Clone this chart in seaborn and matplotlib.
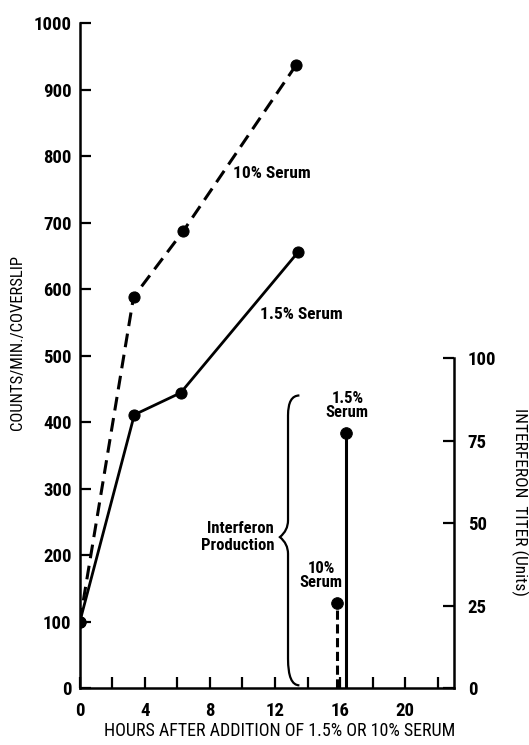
"""
Thymidine uptake and interferon titer after serum addition
"""

import numpy as np
import matplotlib
matplotlib.use('Agg')
import matplotlib.pyplot as plt
from matplotlib.path import Path
from matplotlib.patches import PathPatch
import seaborn as sns

# counts/min/coverslip over time
hours_10 = [0, 3.3, 6.35, 13.3]
counts_10 = [100, 588, 687, 937]
hours_15 = [0, 3.35, 6.2, 13.4]
counts_15 = [100, 411, 444, 655]

# interferon titer (right axis)
ifn_labels = ['10%\nSerum', '1.5%\nSerum']
ifn_hours = [15.8, 16.35]
ifn_titer = [25.7, 77.2]

x_ticks = [0, 4, 8, 12, 16, 20]
x_minor = [2, 6, 10, 14, 18, 22]
y_ticks = [0, 100, 200, 300, 400, 500, 600, 700, 800, 900, 1000]
y2_ticks = [0, 25, 50, 75, 100]

sns.set_style('ticks')
plt.rcParams['font.family'] = ['DejaVu Sans Condensed', 'Liberation Sans Narrow',
                               'Roboto Condensed', 'Roboto', 'DejaVu Sans']
plt.rcParams['font.stretch'] = 'condensed'
plt.rcParams['font.weight'] = 'bold'
plt.rcParams['text.color'] = 'black'
plt.rcParams['axes.labelcolor'] = 'black'
plt.rcParams['xtick.color'] = 'black'
plt.rcParams['ytick.color'] = 'black'

fig = plt.figure(figsize=(5.29, 7.45), dpi=100)
ax = fig.add_axes([0.151, 0.0765, 0.707, 0.8925])

# DNA synthesis curves
sns.lineplot(x=hours_10, y=counts_10, ax=ax, color='black', lw=2.2,
             linestyle=(0, (4.5, 2.5)), marker='o', markersize=8,
             markeredgecolor='black', sort=False, estimator=None)
sns.lineplot(x=hours_15, y=counts_15, ax=ax, color='black', lw=2.0,
             marker='o', markersize=8, markeredgecolor='black',
             sort=False, estimator=None)

ax.set_xlim(0, 23)
ax.set_ylim(0, 1000)
ax.set_xticks(x_ticks)
ax.set_xticks(x_minor, minor=True)
ax.set_yticks(y_ticks)
ax.tick_params(axis='both', which='both', direction='in', length=8,
               width=1.6, color='black', labelsize=13.5, pad=6)
ax.tick_params(axis='x', pad=10)
for s in ['left', 'bottom']:
    ax.spines[s].set_linewidth(1.8)
    ax.spines[s].set_color('black')
ax.spines['top'].set_visible(False)
ax.spines['right'].set_visible(False)

ax.set_xlabel('HOURS AFTER ADDITION OF 1.5% OR 10% SERUM', fontsize=13,
              va='center')
ax.xaxis.set_label_coords(0.535, -0.0647)
ax.set_ylabel('COUNTS/MIN./COVERSLIP', fontsize=12, va='center')
ax.yaxis.set_label_coords(-0.166, 0.52)

ax.text(9.4, 774, '10% Serum', fontsize=12.5, va='center', ha='left')
ax.text(11.1, 561, '1.5% Serum', fontsize=12.5, va='center', ha='left')

# interferon on a second scale
ax2 = ax.twinx()
ax2.set_ylim(0, 100 * 1000 / 496.0)
ax2.set_yticks(y2_ticks)
ax2.spines['right'].set_bounds(0, 100)
ax2.spines['right'].set_linewidth(1.8)
ax2.spines['right'].set_color('black')
for s in ['top', 'left', 'bottom']:
    ax2.spines[s].set_visible(False)
ax2.tick_params(axis='y', direction='in', length=8, width=1.6,
                color='black', labelsize=13.5, pad=10)
ax2.set_ylabel('INTERFERON  TITER (Units)', fontsize=12.5, rotation=-90,
               va='center')
ax2.yaxis.set_label_coords(1.177, 0.28)

ax2.vlines(ifn_hours[0], 0, ifn_titer[0], color='black', lw=2.2,
           linestyles=(0, (3, 1.5)))
ax2.vlines(ifn_hours[1], 0, ifn_titer[1], color='black', lw=2.2)
sns.scatterplot(x=ifn_hours, y=ifn_titer, ax=ax2, color='black', s=70,
                edgecolor='black', zorder=5)
ax2.text(ifn_hours[0] - 0.95, ifn_titer[0] + 8.5, ifn_labels[0],
         fontsize=12, ha='center', va='center', linespacing=0.95)
ax2.text(ifn_hours[1] + 0.1, ifn_titer[1] + 8.5, ifn_labels[1],
         fontsize=12, ha='center', va='center', linespacing=0.95)

# curly brace for interferon production
bx, by_top, by_mid, by_bot = 12.8, 440, 227, 4
verts = [(13.5, by_top), (bx, by_top), (bx, by_top - 30), (bx, by_top - 40),
         (bx, by_mid + 25), (bx, by_mid + 10), (12.3, by_mid),
         (bx, by_mid - 10), (bx, by_mid - 25),
         (bx, by_bot + 40), (bx, by_bot), (13.5, by_bot)]
codes = [Path.MOVETO, Path.CURVE3, Path.CURVE3, Path.LINETO,
         Path.LINETO, Path.CURVE3, Path.CURVE3,
         Path.CURVE3, Path.CURVE3,
         Path.LINETO, Path.CURVE3, Path.CURVE3]
ax.add_patch(PathPatch(Path(verts, codes), fill=False, lw=1.6,
                       edgecolor='black'))
ax.text(11.95, 227, 'Interferon\nProduction', fontsize=12, ha='right',
        va='center', linespacing=1.1)

plt.savefig('out.png', dpi=100)
